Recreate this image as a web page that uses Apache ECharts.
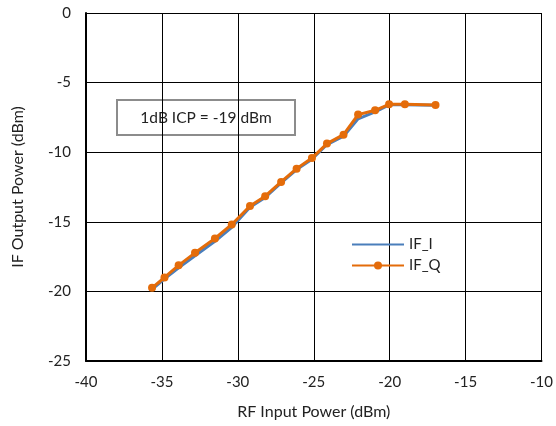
<!DOCTYPE html>
<html>
<head>
<meta charset="utf-8">
<script src="https://cdn.jsdelivr.net/npm/echarts@6/dist/echarts.min.js"></script>
<style>
  html, body { margin: 0; padding: 0; background: #fff; }
  #chart { width: 556px; height: 426px; }
</style>
</head>
<body>
<div id="chart"></div>
<script>
// RF input power sweep (dBm)
const rfInput = [-35.65, -34.83, -33.9, -32.82, -31.51, -30.4, -29.2, -28.2, -27.15, -26.13, -25.12, -24.13, -23.04, -22.08, -20.96, -20.04, -19.0, -16.98];
// IF output power, I channel (dBm)
const ifI = [-19.85, -19.1, -18.3, -17.45, -16.4, -15.4, -13.95, -13.25, -12.2, -11.25, -10.5, -9.45, -8.85, -7.6, -7.1, -6.6, -6.6, -6.62];
// IF output power, Q channel (dBm)
const ifQ = [-19.74, -19.0, -18.13, -17.23, -16.2, -15.19, -13.86, -13.16, -12.14, -11.18, -10.42, -9.38, -8.74, -7.3, -6.99, -6.56, -6.56, -6.61];

const xTicks = { min: -40, max: -10, step: 5 };
const yTicks = { min: -25, max: 0, step: 5 };
const icpNote = '1dB ICP = -19 dBm';

const FONT = 'Lato, "Open Sans", sans-serif';

const pair = (xs, ys) => xs.map((x, i) => [x, ys[i]]);

const chart = echarts.init(document.getElementById('chart'), null, { renderer: 'canvas' });

chart.setOption({
  animation: false,
  backgroundColor: '#ffffff',
  grid: { left: 86, top: 13, right: 13, bottom: 65, containLabel: false },
  xAxis: {
    type: 'value',
    min: xTicks.min, max: xTicks.max, interval: xTicks.step,
    name: 'RF Input Power (dBm)',
    nameLocation: 'middle', nameGap: 43,
    nameTextStyle: { fontFamily: FONT, fontSize: 16, color: '#222' },
    axisLine: { show: true, onZero: false, lineStyle: { color: '#000', width: 2 } },
    axisTick: { show: false },
    axisLabel: { fontFamily: FONT, fontSize: 15, color: '#222', margin: 14 },
    splitLine: { show: true, lineStyle: { color: '#000', width: 1 } }
  },
  yAxis: {
    type: 'value',
    min: yTicks.min, max: yTicks.max, interval: yTicks.step,
    name: 'IF Output Power (dBm)',
    nameLocation: 'middle', nameGap: 60, nameRotate: 90,
    nameTextStyle: { fontFamily: FONT, fontSize: 16, color: '#222' },
    axisLine: { show: true, onZero: false, lineStyle: { color: '#000', width: 2 } },
    axisTick: { show: false },
    axisLabel: { fontFamily: FONT, fontSize: 15, color: '#222', margin: 15 },
    splitLine: { show: true, lineStyle: { color: '#000', width: 1 } }
  },
  legend: {
    orient: 'vertical',
    left: 346, top: 232,
    itemWidth: 52, itemHeight: 10, itemGap: 6,
    textStyle: { fontFamily: FONT, fontSize: 15, color: '#222' },
    data: [
      { name: 'IF_I', itemStyle: { opacity: 0 } },
      { name: 'IF_Q' }
    ]
  },
  series: [
    {
      name: 'IF_I',
      type: 'line',
      data: pair(rfInput, ifI),
      showSymbol: false,
      symbol: 'none',
      lineStyle: { color: '#4a7ebb', width: 3 },
      itemStyle: { color: '#4a7ebb' },
      z: 2
    },
    {
      name: 'IF_Q',
      type: 'line',
      data: pair(rfInput, ifQ),
      symbol: 'circle',
      symbolSize: 8,
      lineStyle: { color: '#e46c0a', width: 3 },
      itemStyle: { color: '#e46c0a' },
      z: 3
    }
  ],
  graphic: [
    {
      type: 'group',
      left: 116, top: 99,
      children: [
        {
          type: 'rect',
          shape: { x: 0, y: 0, width: 178, height: 35 },
          style: { fill: '#ffffff', stroke: '#8c8c8c', lineWidth: 2 }
        },
        {
          type: 'text',
          x: 89, y: 18,
          style: {
            text: icpNote,
            fontFamily: FONT, fontSize: 15.5, fill: '#222',
            align: 'center', verticalAlign: 'middle'
          }
        }
      ]
    }
  ]
});
</script>
</body>
</html>
